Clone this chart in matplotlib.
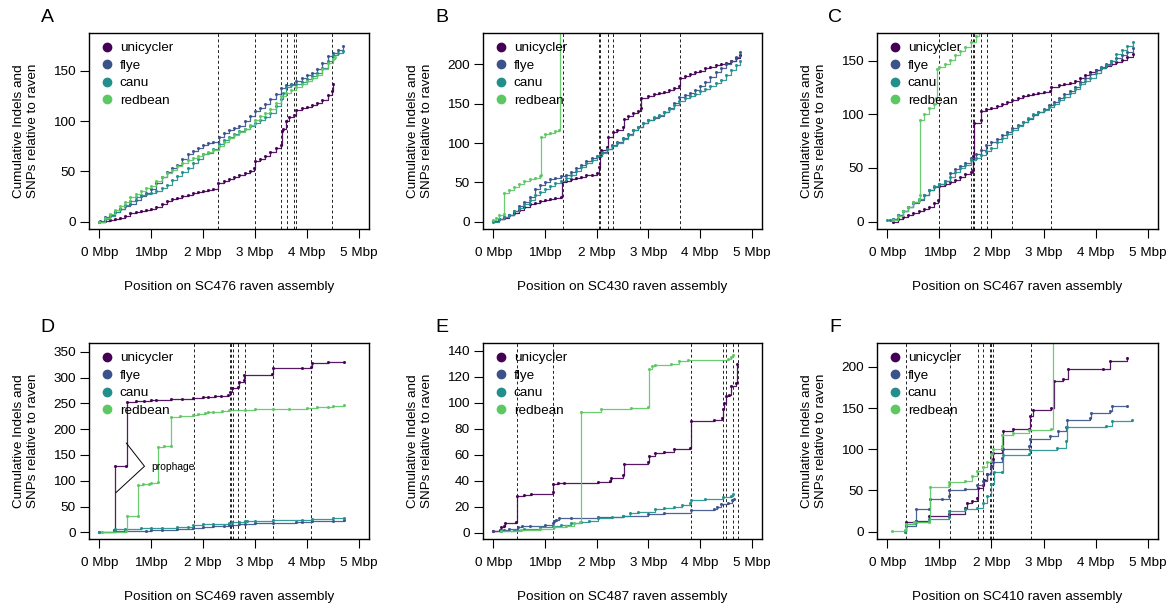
import matplotlib
matplotlib.use('Agg')
import matplotlib.pyplot as plt
from matplotlib.lines import Line2D

plt.rcParams['font.family'] = ['Liberation Sans', 'DejaVu Sans']

assemblers = ['unicycler', 'flye', 'canu', 'redbean']
colours = ['#440154', '#3B528B', '#21908C', '#5DC863']
xtick_vals = [0, 1, 2, 3, 4, 5]
xtick_labels = ['0 Mbp', '1Mbp', '2 Mbp', '3 Mbp', '4 Mbp', '5 Mbp']

# ---- A: SC476  (position in Mbp, cumulative count) ----
a_unicycler = [(0, 0), (0.1, 1), (0.2, 2), (0.3, 3), (0.4, 4), (0.5, 6), (0.6, 9), (0.7, 10), (0.8, 11),
               (0.9, 12), (1.0, 13), (1.1, 15), (1.2, 18), (1.3, 21), (1.4, 23), (1.5, 24), (1.6, 26),
               (1.7, 27), (1.8, 29), (1.9, 30), (2.0, 31), (2.1, 32), (2.2, 33), (2.29, 38), (2.4, 40),
               (2.5, 42), (2.6, 44), (2.7, 46), (2.8, 48), (2.9, 50), (2.98, 53), (3.0, 60), (3.1, 62),
               (3.2, 65), (3.3, 69), (3.4, 73), (3.5, 76), (3.52, 90), (3.55, 92), (3.6, 100), (3.65, 104),
               (3.75, 106), (3.8, 111), (3.9, 113), (4.0, 114), (4.1, 116), (4.2, 118), (4.3, 121),
               (4.4, 126), (4.48, 130), (4.5, 137)]
a_flye = [(0.02, 1), (0.1, 5), (0.2, 7), (0.3, 10), (0.4, 13), (0.5, 16), (0.6, 18), (0.7, 22), (0.8, 26),
          (0.9, 29), (1.0, 33), (1.1, 38), (1.2, 44), (1.3, 49), (1.4, 53), (1.5, 56), (1.6, 62), (1.7, 67),
          (1.8, 70), (1.9, 73), (2.0, 76), (2.1, 78), (2.2, 79), (2.3, 84), (2.4, 88), (2.5, 91), (2.6, 93),
          (2.7, 95), (2.8, 100), (2.9, 105), (3.0, 110), (3.1, 113), (3.2, 117), (3.3, 122), (3.4, 127),
          (3.5, 133), (3.6, 136), (3.7, 137), (3.8, 140), (3.9, 143), (4.0, 146), (4.1, 148), (4.2, 152),
          (4.3, 158), (4.4, 165), (4.5, 168), (4.6, 171), (4.7, 175)]
a_canu = [(0, 0), (0.1, 3), (0.2, 6), (0.3, 10), (0.4, 13), (0.5, 17), (0.6, 21), (0.7, 25), (0.8, 27),
          (0.9, 28), (1.0, 29), (1.1, 31), (1.2, 34), (1.3, 37), (1.4, 41), (1.5, 45), (1.6, 49), (1.7, 53),
          (1.8, 58), (1.9, 62), (2.0, 67), (2.1, 68), (2.2, 72), (2.3, 77), (2.4, 81), (2.5, 84), (2.6, 87),
          (2.7, 90), (2.8, 92), (2.9, 95), (3.0, 98), (3.1, 101), (3.2, 104), (3.3, 108), (3.4, 115),
          (3.5, 122), (3.55, 128), (3.6, 134), (3.7, 136), (3.8, 137), (3.9, 139), (4.0, 142), (4.1, 145),
          (4.2, 148), (4.3, 153), (4.4, 160), (4.5, 166), (4.6, 168), (4.7, 170)]
a_redbean = [(0, 0), (0.1, 4), (0.2, 8), (0.3, 12), (0.4, 16), (0.5, 20), (0.6, 25), (0.7, 28), (0.8, 31),
             (0.9, 34), (1.0, 36), (1.1, 40), (1.2, 44), (1.3, 48), (1.4, 51), (1.5, 55), (1.6, 58),
             (1.7, 61), (1.8, 63), (1.9, 65), (2.0, 67), (2.1, 69), (2.2, 71), (2.3, 75), (2.4, 79),
             (2.5, 83), (2.6, 86), (2.7, 89), (2.8, 92), (2.9, 96), (3.0, 101), (3.1, 105), (3.2, 108),
             (3.3, 112), (3.4, 118), (3.5, 125), (3.6, 128), (3.7, 131), (3.8, 134), (3.9, 137), (4.0, 140),
             (4.1, 143), (4.2, 146), (4.3, 152), (4.4, 158), (4.5, 162), (4.55, 164)]
a_breaks = [2.29, 3.0, 3.51, 3.62, 3.75, 3.80, 4.48]

# ---- B: SC430 ----
b_unicycler = [(0, 1), (0.1, 3), (0.2, 5), (0.3, 8), (0.4, 11), (0.5, 15), (0.6, 19), (0.7, 22), (0.8, 24),
               (0.9, 26), (1.0, 27), (1.1, 29), (1.2, 30), (1.31, 32), (1.32, 51), (1.4, 52), (1.5, 54),
               (1.6, 56), (1.7, 57), (1.8, 59), (1.9, 60), (2.0, 62), (2.04, 70), (2.06, 84), (2.08, 91),
               (2.2, 95), (2.21, 108), (2.31, 114), (2.4, 116), (2.5, 120), (2.52, 131), (2.6, 134),
               (2.7, 138), (2.8, 141), (2.85, 144), (2.86, 157), (3.0, 160), (3.1, 163), (3.2, 164),
               (3.3, 165), (3.4, 167), (3.5, 170), (3.6, 173), (3.61, 183), (3.7, 185), (3.8, 188),
               (3.9, 190), (4.0, 192), (4.1, 195), (4.2, 197), (4.3, 199), (4.4, 200), (4.5, 202),
               (4.6, 204), (4.7, 208), (4.78, 212)]
b_flye = [(0, 1), (0.1, 3), (0.2, 6), (0.3, 9), (0.4, 14), (0.5, 20), (0.6, 25), (0.7, 32), (0.8, 42),
          (0.9, 47), (1.0, 51), (1.1, 54), (1.2, 56), (1.3, 58), (1.4, 60), (1.5, 63), (1.6, 68), (1.7, 72),
          (1.8, 77), (1.9, 81), (2.0, 84), (2.1, 89), (2.2, 93), (2.3, 97), (2.4, 101), (2.5, 106),
          (2.6, 111), (2.7, 116), (2.8, 121), (2.9, 126), (3.0, 129), (3.1, 132), (3.2, 135), (3.3, 139),
          (3.4, 144), (3.5, 151), (3.6, 158), (3.7, 161), (3.8, 164), (3.9, 168), (4.0, 172), (4.1, 178),
          (4.2, 184), (4.3, 190), (4.4, 196), (4.5, 201), (4.6, 204), (4.7, 210), (4.78, 216)]
b_canu = [(0, 0), (0.1, 3), (0.2, 6), (0.3, 9), (0.4, 13), (0.5, 17), (0.6, 22), (0.7, 28), (0.8, 34),
          (0.9, 38), (1.0, 42), (1.1, 45), (1.2, 49), (1.3, 52), (1.4, 56), (1.5, 60), (1.6, 65), (1.7, 70),
          (1.8, 75), (1.9, 79), (2.0, 83), (2.1, 88), (2.2, 93), (2.3, 96), (2.4, 100), (2.5, 105),
          (2.6, 110), (2.7, 116), (2.8, 121), (2.9, 126), (3.0, 129), (3.1, 133), (3.2, 136), (3.3, 139),
          (3.4, 143), (3.5, 148), (3.6, 153), (3.7, 157), (3.8, 160), (3.9, 163), (4.0, 166), (4.1, 169),
          (4.2, 172), (4.3, 176), (4.4, 180), (4.5, 186), (4.6, 193), (4.7, 199), (4.78, 205)]
b_redbean = [(0, 2), (0.05, 5), (0.1, 8), (0.2, 10), (0.21, 36), (0.3, 40), (0.4, 44), (0.5, 48), (0.6, 52),
             (0.7, 54), (0.8, 56), (0.9, 58), (0.92, 60), (0.93, 108), (1.0, 111), (1.1, 113), (1.2, 115),
             (1.28, 117), (1.29, 300)]
b_breaks = [1.34, 2.04, 2.07, 2.21, 2.31, 2.84, 3.61]

# ---- C: SC467 ----
c_unicycler = [(0.1, 0), (0.2, 2), (0.3, 4), (0.4, 6), (0.5, 8), (0.6, 10), (0.7, 12), (0.8, 14), (0.9, 17),
               (0.98, 20), (0.99, 33), (1.1, 35), (1.2, 37), (1.3, 39), (1.4, 42), (1.5, 44), (1.6, 46),
               (1.64, 48), (1.65, 61), (1.66, 92), (1.79, 95), (1.8, 103), (1.9, 105), (2.0, 106),
               (2.1, 108), (2.2, 110), (2.3, 112), (2.4, 113), (2.5, 115), (2.6, 117), (2.7, 118),
               (2.8, 119), (2.9, 120), (3.0, 121), (3.13, 122), (3.15, 126), (3.3, 127), (3.4, 128),
               (3.5, 129), (3.6, 131), (3.7, 134), (3.8, 137), (3.9, 140), (4.0, 141), (4.1, 143),
               (4.2, 145), (4.3, 147), (4.4, 149), (4.5, 151), (4.6, 154), (4.72, 156)]
c_flye = [(0.05, 1), (0.1, 2), (0.2, 6), (0.3, 10), (0.4, 14), (0.5, 17), (0.6, 20), (0.7, 25), (0.8, 29),
          (0.9, 32), (1.0, 35), (1.1, 38), (1.2, 45), (1.3, 49), (1.4, 52), (1.5, 55), (1.6, 59), (1.7, 63),
          (1.8, 67), (1.9, 71), (2.0, 74), (2.1, 77), (2.2, 81), (2.3, 84), (2.4, 87), (2.5, 90), (2.6, 93),
          (2.7, 96), (2.8, 99), (2.9, 102), (3.0, 105), (3.1, 109), (3.2, 112), (3.3, 115), (3.4, 119),
          (3.5, 122), (3.6, 126), (3.7, 130), (3.8, 134), (3.9, 138), (4.0, 141), (4.1, 144), (4.2, 147),
          (4.3, 150), (4.4, 153), (4.5, 155), (4.6, 158), (4.72, 162)]
c_canu = [(0.0, 1), (0.1, 2), (0.2, 6), (0.3, 10), (0.4, 14), (0.5, 18), (0.6, 21), (0.7, 25), (0.8, 29),
          (0.9, 33), (1.0, 35), (1.1, 38), (1.2, 42), (1.3, 46), (1.4, 50), (1.5, 53), (1.6, 57), (1.7, 59),
          (1.8, 62), (1.9, 66), (2.0, 69), (2.1, 74), (2.2, 78), (2.3, 82), (2.4, 85), (2.5, 89), (2.6, 93),
          (2.7, 97), (2.8, 100), (2.9, 102), (3.0, 104), (3.1, 107), (3.2, 110), (3.3, 113), (3.4, 116),
          (3.5, 120), (3.6, 124), (3.7, 128), (3.8, 131), (3.9, 134), (4.0, 139), (4.1, 143), (4.2, 146),
          (4.3, 150), (4.4, 156), (4.5, 160), (4.6, 164), (4.72, 168)]
c_redbean = [(0.1, 1), (0.2, 5), (0.3, 10), (0.4, 14), (0.5, 18), (0.6, 21), (0.62, 25), (0.63, 95),
             (0.7, 100), (0.8, 106), (0.9, 110), (0.94, 115), (0.95, 142), (1.0, 144), (1.1, 147),
             (1.2, 151), (1.3, 155), (1.4, 159), (1.5, 163), (1.6, 168), (1.7, 173), (1.76, 180), (1.8, 190)]
c_breaks = [1.0, 1.61, 1.64, 1.67, 1.80, 1.91, 2.40, 3.14]

# ---- D: SC469 ----
d_unicycler = [(0.29, 5), (0.30, 128), (0.52, 128), (0.53, 253), (0.7, 254), (0.87, 255), (1.0, 256),
               (1.1, 257), (1.39, 258), (1.6, 259), (1.81, 261), (2.0, 262), (2.1, 263), (2.23, 264),
               (2.35, 265), (2.49, 266), (2.52, 272), (2.55, 279), (2.68, 282), (2.70, 292), (2.78, 296),
               (2.79, 305), (3.33, 307), (3.35, 318), (3.91, 319), (4.09, 320), (4.10, 329), (4.4, 330),
               (4.72, 331)]
d_flye = [(0.0, 1), (0.3, 2), (0.5, 2), (0.9, 3), (1.0, 4), (1.2, 5), (1.5, 6), (1.8, 8), (2.0, 10),
          (2.2, 12), (2.4, 13), (2.5, 14), (2.55, 15), (2.7, 16), (2.8, 17), (3.0, 18), (3.35, 18),
          (3.8, 19), (3.9, 20), (4.1, 21), (4.5, 22), (4.72, 23)]
d_canu = [(0.0, 1), (0.28, 3), (0.3, 6), (0.5, 7), (0.8, 8), (1.0, 8), (1.2, 9), (1.5, 10), (1.7, 11),
          (1.8, 15), (2.0, 16), (2.2, 17), (2.5, 18), (2.55, 19), (2.7, 20), (2.8, 21), (2.85, 22),
          (3.0, 22), (3.35, 23), (3.9, 24), (4.1, 26), (4.5, 27), (4.72, 28)]
d_redbean = [(0.05, 1), (0.52, 2), (0.53, 32), (0.74, 32), (0.75, 92), (0.85, 93), (0.95, 94), (1.0, 95),
             (1.13, 97), (1.14, 166), (1.25, 167), (1.38, 168), (1.39, 224), (1.55, 225), (1.81, 228),
             (1.9, 230), (2.04, 232), (2.1, 233), (2.2, 234), (2.36, 236), (2.5, 237), (2.8, 238),
             (3.0, 239), (3.35, 239), (3.65, 240), (4.0, 241), (4.2, 242), (4.4, 243), (4.5, 244),
             (4.72, 246)]
d_breaks = [1.82, 2.52, 2.54, 2.57, 2.68, 2.80, 3.35, 4.09]
prophage_outline = [(0.52, 173), (0.87, 128), (0.32, 77)]

# ---- E: SC487 ----
e_unicycler = [(0.0, 1), (0.12, 2), (0.15, 4), (0.2, 5), (0.23, 7), (0.44, 8), (0.45, 28), (0.6, 29),
               (0.73, 30), (1.15, 31), (1.16, 37), (1.25, 38), (1.37, 38), (2.02, 39), (2.25, 40),
               (2.28, 42), (2.5, 44), (2.52, 53), (2.99, 54), (3.02, 59), (3.12, 61), (3.3, 62), (3.5, 64),
               (3.81, 65), (3.82, 86), (4.28, 87), (4.43, 88), (4.44, 95), (4.47, 100), (4.5, 105),
               (4.57, 106), (4.6, 113), (4.7, 115), (4.72, 130)]
e_flye = [(0.0, 1), (0.15, 2), (0.2, 2), (0.3, 3), (0.47, 4), (0.55, 5), (0.7, 5), (1.0, 6), (1.15, 7),
          (1.18, 9), (1.22, 10), (1.28, 11), (1.5, 11), (2.02, 12), (2.5, 13), (2.99, 14), (3.3, 15),
          (3.83, 17), (4.28, 18), (4.32, 20), (4.4, 22), (4.54, 23), (4.62, 25), (4.66, 26)]
e_canu = [(0.15, 1), (0.4, 2), (0.6, 3), (0.9, 4), (1.15, 5), (1.3, 6), (1.5, 7), (1.7, 8), (1.85, 9),
          (2.02, 11), (2.3, 12), (2.5, 13), (2.65, 15), (2.8, 16), (3.12, 18), (3.3, 19), (3.5, 20),
          (3.65, 21), (3.8, 23), (3.83, 25), (4.1, 26), (4.45, 27), (4.6, 28), (4.63, 30)]
e_redbean = [(0.15, 1), (0.54, 2), (0.9, 3), (1.18, 4), (1.4, 5), (1.57, 7), (1.68, 8), (1.7, 93),
             (2.08, 95), (2.66, 96), (2.99, 97), (3.02, 126), (3.08, 128), (3.12, 129), (3.44, 130),
             (3.6, 132), (3.76, 133), (4.54, 134), (4.6, 135), (4.63, 137)]
e_breaks = [0.46, 1.16, 3.82, 4.45, 4.50, 4.63, 4.73]

# ---- F: SC410 ----
f_unicycler = [(0.34, 1), (0.35, 12), (0.54, 13), (0.79, 19), (1.18, 21), (1.5, 29), (1.52, 35), (1.63, 37),
               (1.73, 41), (1.74, 53), (1.83, 56), (1.86, 63), (1.92, 70), (1.99, 80), (2.02, 88), (2.03, 96),
               (2.21, 100), (2.23, 122), (2.41, 124), (2.73, 125), (2.74, 140), (2.79, 148), (3.15, 150),
               (3.2, 183), (3.37, 185), (3.47, 197), (4.15, 198), (4.28, 207), (4.6, 211)]
f_flye = [(0.34, 1), (0.35, 7), (0.54, 13), (0.55, 27), (0.79, 27), (0.81, 39), (1.05, 40), (1.18, 43),
          (1.19, 51), (1.5, 52), (1.73, 56), (1.83, 62), (1.92, 70), (1.99, 78), (2.02, 84), (2.21, 89),
          (2.23, 100), (2.73, 104), (2.74, 112), (3.12, 116), (3.28, 122), (3.44, 127), (3.45, 136),
          (3.89, 138), (3.92, 144), (4.28, 146), (4.31, 152), (4.6, 152)]
f_canu = [(0.34, 0), (0.35, 9), (0.54, 12), (0.79, 15), (1.18, 18), (1.19, 25), (1.5, 27), (1.73, 29),
          (1.83, 35), (1.92, 43), (1.99, 58), (2.05, 72), (2.21, 72), (2.23, 93), (2.73, 94), (2.74, 99),
          (3.25, 101), (3.44, 110), (3.45, 127), (4.21, 128), (4.31, 134), (4.7, 136)]
f_redbean = [(0.08, 1), (0.34, 2), (0.35, 9), (0.52, 12), (0.80, 12), (0.81, 54), (1.18, 56), (1.19, 60),
             (1.5, 62), (1.63, 68), (1.73, 73), (1.83, 78), (1.92, 84), (1.99, 94), (2.02, 100), (2.2, 104),
             (2.21, 117), (2.41, 120), (2.73, 123), (3.15, 125), (3.18, 400)]
f_breaks = [0.35, 1.20, 1.75, 1.84, 1.97, 2.00, 2.03, 2.75]

panels = [
    ('A', 'SC476', [a_unicycler, a_flye, a_canu, a_redbean], a_breaks, [0, 50, 100, 150], (-7.2, 187.5)),
    ('B', 'SC430', [b_unicycler, b_flye, b_canu, b_redbean], b_breaks, [0, 50, 100, 150, 200], (-9.3, 240)),
    ('C', 'SC467', [c_unicycler, c_flye, c_canu, c_redbean], c_breaks, [0, 50, 100, 150], (-7, 176)),
    ('D', 'SC469', [d_unicycler, d_flye, d_canu, d_redbean], d_breaks, list(range(0, 351, 50)), (-13, 367)),
    ('E', 'SC487', [e_unicycler, e_flye, e_canu, e_redbean], e_breaks, list(range(0, 141, 20)), (-5, 146)),
    ('F', 'SC410', [f_unicycler, f_flye, f_canu, f_redbean], f_breaks, [0, 50, 100, 150, 200], (-9, 229)),
]

W, H = 1172, 608
fig = plt.figure(figsize=(W / 100, H / 100), dpi=100)
lefts = [89, 483, 877]
widths = [280, 279, 281]
tops = [33, 343]
letter_x = [47, 442, 835]
fs = 9.7

for i, (letter, name, series, breaks, yticks, ylim) in enumerate(panels):
    r, c = divmod(i, 3)
    ax = fig.add_axes([lefts[c] / W, 1 - (tops[r] + 196) / H, widths[c] / W, 196 / H])
    for b in breaks:
        ax.axvline(b, color='#222222', lw=0.7, ls=(0, (3, 2.5)), zorder=1)
    for s, col in zip(series, colours):
        xs = [p[0] for p in s]
        ys = [p[1] for p in s]
        ax.plot(xs, ys, drawstyle='steps-post', color=col, lw=0.9, marker='.', ms=2.5, alpha=0.9, zorder=2)
    if letter == 'D':
        ax.plot([p[0] for p in prophage_outline], [p[1] for p in prophage_outline], color='black', lw=0.7)
        ax.text(1.0, 126, 'prophage', fontsize=7.4, va='center', ha='left')
    ax.set_xlim(-0.2, 5.2)
    ax.set_ylim(*ylim)
    ax.set_xticks(xtick_vals)
    ax.set_xticklabels(xtick_labels)
    ax.set_yticks(yticks)
    ax.tick_params(direction='out', length=6.5, width=0.8, labelsize=fs)
    ax.tick_params(axis='x', pad=6.5)
    ax.tick_params(axis='y', pad=3)
    for sp in ax.spines.values():
        sp.set_linewidth(1.0)
    handles = [Line2D([], [], ls='none', marker='o', ms=6, color=col) for col in colours]
    ax.legend(handles, assemblers, loc='upper left', bbox_to_anchor=(0.045, 0.955), frameon=False,
              borderaxespad=0, borderpad=0, handlelength=0.8, handletextpad=0.55, labelspacing=0.38,
              fontsize=fs)
    ax.text(0.5, -0.296, f'Position on {name} raven assembly', transform=ax.transAxes,
            ha='center', va='center', fontsize=fs)
    ax.text(-0.225, 0.5, 'Cumulative Indels and\nSNPs relative to raven', transform=ax.transAxes,
            rotation=90, ha='center', va='center', fontsize=fs, linespacing=1.2)
    fig.text(letter_x[c] / W, 1 - (18 + 310 * r) / H, letter, fontsize=14, ha='center', va='center')

fig.savefig('out.png', dpi=100)
